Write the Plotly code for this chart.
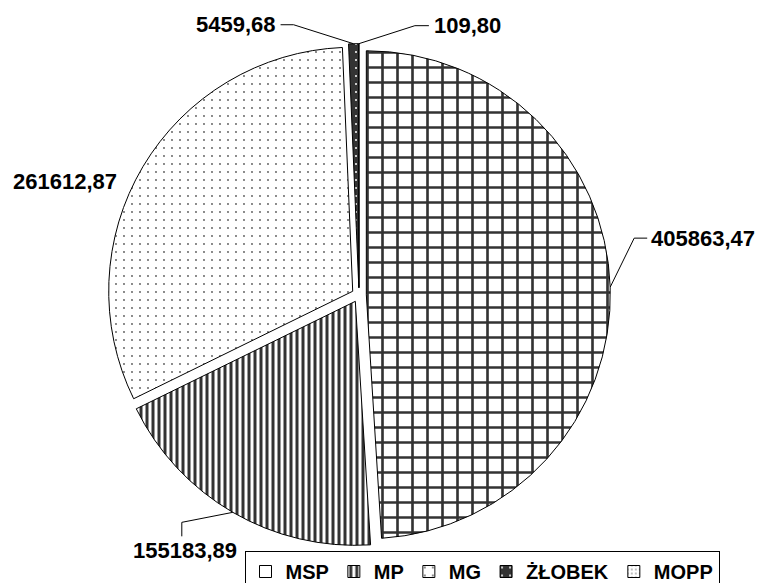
import math
import plotly.graph_objects as go

# ---- data ----
categories = ["MSP", "MP", "MG", "ŻŁOBEK", "MOPP"]
values = [405863.47, 155183.89, 261612.87, 5459.68, 109.80]

# ---- style ----
W, H = 760, 583
CX, CY = 359, 295          # pie centre in px
R = 244                    # pie radius in px
PULL = 0.03
FONT = "Liberation Sans, Arial, sans-serif"
FS = 22

pat_shape = ["+", "|", ".", ".", "."]
pat_size = [15, 6, 8, 8, 4]
pat_solidity = [0.32, 0.5, 0.04, 0.05, 0.12]
pat_fg = ["#333333", "#333333", "#555555", "white", "#666666"]
pat_bg = ["white", "white", "white", "#333333", "white"]

# leader line geometry relative to slice edge point
leaders = {
    "MSP": dict(pts=[(24, -49), (37, -49)], text=(39, -49), xa="left", ya="middle"),
    "MP": dict(pts=[(-51, 10), (-51, 24)], text=(-48, 24), xa="center", ya="top"),
    "MG": dict(pts=[], text=(-24, 15), xa="right", ya="middle"),
    "ŻŁOBEK": dict(pts=[(-60, -19), (-73, -19)], text=(-76, -19), xa="right", ya="middle"),
    "MOPP": dict(pts=[(56, -18), (70, -18)], text=(73, -18), xa="left", ya="middle"),
}


def px(x):
    return x / W


def py(y):
    return 1 - y / H


D = 2 * R * (1 + PULL)
fig = go.Figure(go.Pie(
    labels=categories,
    values=values,
    sort=False,
    direction="clockwise",
    rotation=0,
    pull=[PULL] * len(values),
    textinfo="none",
    hoverinfo="label+value",
    marker=dict(colors=pat_bg,
                line=dict(color="black", width=1),
                pattern=dict(shape=pat_shape, size=pat_size, solidity=pat_solidity,
                             fgcolor=pat_fg, bgcolor=pat_bg)),
    domain=dict(x=[px(CX - D / 2), px(CX + D / 2)],
                y=[py(CY + D / 2), py(CY - D / 2)]),
))

total = sum(values)
cum = 0.0
shapes, annotations = [], []
for cat, v in zip(categories, values):
    mid = (cum + v / 2) / total * 2 * math.pi
    cum += v
    rr = R * (1 + PULL)
    ex = CX + rr * math.sin(mid)
    ey = CY - rr * math.cos(mid)
    g = leaders[cat]
    if g["pts"]:
        path = f"M {px(ex)},{py(ey)}"
        for dx, dy in g["pts"]:
            path += f" L {px(ex + dx)},{py(ey + dy)}"
        shapes.append(dict(type="path", xref="paper", yref="paper", path=path,
                           line=dict(color="black", width=1)))
    tx, ty = g["text"]
    annotations.append(dict(
        x=px(ex + tx), y=py(ey + ty), xref="paper", yref="paper",
        text=f"{v:.2f}".replace(".", ","), showarrow=False,
        xanchor=g["xa"], yanchor=g["ya"],
        font=dict(family=FONT, size=FS, color="black", weight="bold"),
    ))

fig.update_layout(
    width=W, height=H,
    margin=dict(l=0, r=0, t=0, b=0, pad=0, autoexpand=False),
    paper_bgcolor="white", plot_bgcolor="white",
    showlegend=True,
    legend=dict(orientation="h", x=px(482), xanchor="center", y=py(551), yanchor="top",
                bordercolor="black", borderwidth=1, bgcolor="white",
                font=dict(family=FONT, size=20, color="black", weight="bold"),
                itemwidth=30, tracegroupgap=0),
    shapes=shapes, annotations=annotations,
)

fig.write_html("out.html", config={"displayModeBar": False},
               post_script="document.body.style.margin='0';document.body.style.overflow='hidden';")
